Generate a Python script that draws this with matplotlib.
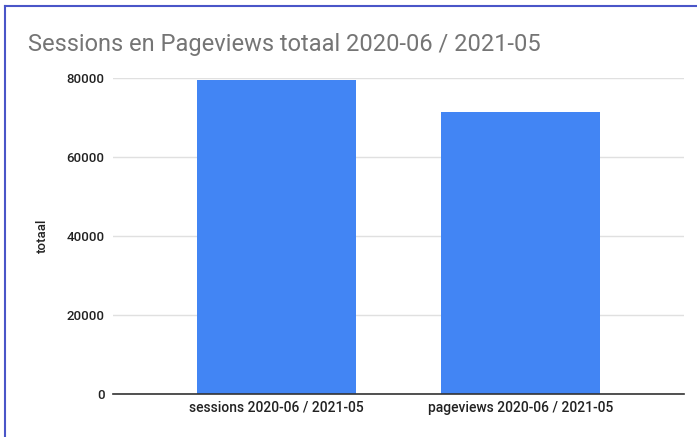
import matplotlib
matplotlib.use('Agg')
import matplotlib.pyplot as plt
from matplotlib.lines import Line2D
import numpy as np

# Data
categories = ['sessions 2020-06 / 2021-05', 'pageviews 2020-06 / 2021-05']
totals = [79500, 71400]
yticks = [0, 20000, 40000, 60000, 80000]

title = 'Sessions en Pageviews totaal 2020-06 / 2021-05'
bar_color = '#4285f4'

plt.rcParams['font.family'] = ['Roboto', 'DejaVu Sans']

fig = plt.figure(figsize=(6.97, 4.37), dpi=100)
ax = fig.add_axes([113/697, 43/437, (684-113)/697, (394-78)/437])

x = np.arange(len(categories))
ax.bar(x, totals, width=0.65, color=bar_color, zorder=3)

ax.set_xlim(-0.67, 1.67)
ax.set_ylim(0, 80000)
ax.set_yticks(yticks)
ax.set_yticklabels([str(v) for v in yticks], fontsize=9.5, color='#222222', fontweight='medium')
ax.set_xticks(x)
ax.set_xticklabels(categories, fontsize=10, color='#222222', fontweight='medium')
ax.tick_params(axis='both', length=0)
ax.tick_params(axis='y', pad=6)
ax.tick_params(axis='x', pad=5)

ax.grid(axis='y', color='#e0e0e0', linewidth=1, zorder=0)
for s in ['top', 'right', 'left']:
  ax.spines[s].set_visible(False)
ax.spines['bottom'].set_color('#333333')
ax.spines['bottom'].set_linewidth(1.2)
ax.spines['bottom'].set_zorder(4)

ax.set_ylabel('totaal', fontsize=9.5, color='#222222', labelpad=13, fontweight='medium')

fig.text(28/697, 1 - 45/437, title, fontsize=17, color='#757575', ha='left', va='center')

# Blue frame on top and left edges
fig.add_artist(Line2D([5/697, 1], [1 - 6/437, 1 - 6/437], color='#4a55c8', linewidth=1.5, transform=fig.transFigure))
fig.add_artist(Line2D([5/697, 5/697], [0, 1 - 6/437], color='#4a55c8', linewidth=1.5, transform=fig.transFigure))

fig.savefig('out.png', dpi=100)
